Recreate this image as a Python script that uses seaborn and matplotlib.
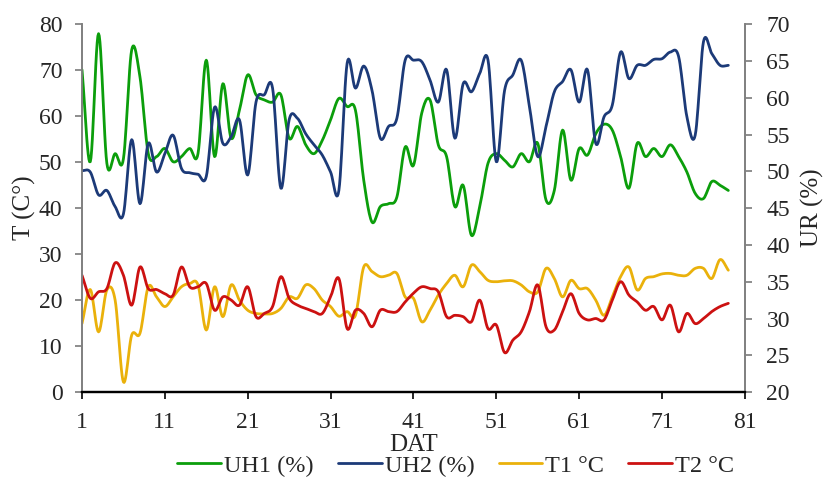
import numpy as np
import pandas as pd
import matplotlib
matplotlib.use('Agg')
import matplotlib.pyplot as plt
import seaborn as sns

# valores (DAT 1..79)
dat = list(range(1, 80))

uh1 = [63.8, 51.3, 68.7, 51.1, 52.4, 51.7, 66.5, 62.8, 52.4, 52.0,
       53.1, 51.3, 52.0, 53.1, 52.4, 65.1, 52.0, 61.9, 54.5, 58.3,
       63.1, 60.4, 59.7, 59.4, 60.4, 54.5, 56.1, 53.6, 52.4, 54.2,
       57.0, 59.9, 58.8, 58.3, 48.8, 43.1, 45.2, 45.6, 46.5, 53.3,
       50.8, 57.9, 59.7, 53.6, 52.0, 45.2, 48.1, 41.3, 45.2, 51.1,
       52.4, 51.5, 50.6, 52.4, 51.3, 53.8, 46.1, 47.4, 55.6, 48.8,
       53.1, 52.2, 55.1, 56.4, 55.6, 52.0, 47.7, 53.8, 52.0, 53.1,
       52.0, 53.6, 52.0, 49.9, 47.0, 46.3, 48.6, 48.1, 47.4]

uh2 = [50.1, 49.9, 46.8, 47.4, 45.2, 44.2, 54.3, 45.6, 53.8, 49.9,
       52.4, 54.9, 50.4, 49.8, 49.6, 49.3, 58.7, 53.8, 54.7, 57.0,
       49.5, 59.4, 60.4, 61.3, 47.7, 57.0, 57.2, 55.1, 53.6, 52.2,
       49.9, 47.4, 64.7, 61.3, 64.3, 61.0, 54.5, 56.1, 57.2, 65.1,
       65.1, 64.9, 62.4, 59.4, 63.8, 54.5, 61.9, 60.8, 63.3, 65.1,
       51.3, 61.0, 63.1, 65.1, 58.8, 52.0, 56.1, 60.8, 62.2, 63.8,
       59.4, 63.8, 53.8, 57.4, 59.0, 66.2, 62.6, 64.4, 64.4, 65.2,
       65.3, 66.2, 65.6, 57.4, 54.9, 67.6, 66.0, 64.4, 64.4]

t1 = [14.9, 22.3, 13.1, 22.2, 20.0, 2.2, 12.4, 12.8, 22.9, 20.7,
      18.6, 20.7, 22.9, 23.6, 23.3, 13.5, 22.9, 16.4, 23.3, 20.0,
      17.8, 17.1, 17.0, 17.1, 18.2, 20.7, 20.4, 23.3, 22.5, 20.0,
      18.6, 16.5, 17.5, 16.7, 27.2, 26.2, 25.1, 25.4, 25.8, 20.7,
      20.4, 15.3, 17.8, 21.1, 23.6, 25.4, 22.9, 27.6, 26.2, 24.3,
      24.0, 24.2, 24.2, 23.3, 21.8, 21.8, 26.9, 24.7, 20.7, 24.3,
      22.5, 22.5, 20.0, 16.7, 20.7, 25.1, 27.2, 22.2, 24.7, 25.1,
      25.7, 25.8, 25.4, 25.4, 26.9, 26.9, 24.7, 28.8, 26.5]

t2 = [25.4, 20.4, 21.8, 22.5, 28.1, 25.4, 18.9, 27.2, 22.5, 22.3,
      21.4, 21.1, 27.2, 22.9, 22.9, 23.6, 17.8, 20.7, 20.0, 18.9,
      22.9, 16.4, 17.1, 18.6, 25.1, 20.4, 18.9, 18.2, 17.5, 17.1,
      20.7, 24.7, 13.8, 17.8, 17.1, 14.2, 17.8, 17.5, 17.5, 19.6,
      21.5, 22.9, 22.5, 21.8, 16.4, 16.7, 16.4, 15.3, 20.0, 13.8,
      14.6, 8.6, 11.3, 13.1, 17.5, 23.3, 14.2, 13.5, 17.5, 21.4,
      17.1, 15.7, 16.0, 15.7, 20.0, 24.0, 21.1, 19.6, 17.8, 18.6,
      15.7, 18.9, 13.1, 17.1, 14.9, 16.0, 17.5, 18.6, 19.3]

cores = {'UH1 (%)': '#0b9e0b', 'UH2 (%)': '#1c3a78',
         'T1 °C': '#eab10b', 'T2 °C': '#cc1111'}


# linha suavizada tipo Excel (catmull-rom)
def suaviza(x, y, n=12):
    x = np.asarray(x, float)
    y = np.asarray(y, float)
    px = np.r_[2 * x[0] - x[1], x, 2 * x[-1] - x[-2]]
    py = np.r_[2 * y[0] - y[1], y, 2 * y[-1] - y[-2]]
    t = np.linspace(0, 1, n, endpoint=False)[:, None]

    def cr(p):
        p0, p1, p2, p3 = p[:-3], p[1:-2], p[2:-1], p[3:]
        c = 0.5 * (2 * p1 + (-p0 + p2) * t + (2 * p0 - 5 * p1 + 4 * p2 - p3) * t ** 2
                   + (-p0 + 3 * p1 - 3 * p2 + p3) * t ** 3)
        return np.r_[c.T.ravel(), p[-2]]
    return cr(px), cr(py)


def tabela(series):
    partes = []
    for nome, vals in series.items():
        xs, ys = suaviza(dat, vals)
        partes.append(pd.DataFrame({'DAT': xs, 'valor': ys, 'serie': nome}))
    return pd.concat(partes, ignore_index=True)


fs = 17
sns.set_theme(style='white')
plt.rcParams['font.family'] = ['Liberation Serif', 'DejaVu Serif']
plt.rcParams['font.size'] = fs

fig, ax = plt.subplots(figsize=(8.24, 4.92), dpi=100)
ax2 = ax.twinx()
fig.subplots_adjust(left=0.0995, right=0.904, top=0.951, bottom=0.203)

df_t = tabela({'T1 °C': t1, 'T2 °C': t2})
df_u = tabela({'UH1 (%)': uh1, 'UH2 (%)': uh2})

sns.lineplot(data=df_t, x='DAT', y='valor', hue='serie', palette=cores,
             sort=False, estimator=None, lw=2.0, ax=ax, legend=False)
sns.lineplot(data=df_u, x='DAT', y='valor', hue='serie', palette=cores,
             sort=False, estimator=None, lw=2.0, ax=ax2, legend=False)

ax.set_xlim(1, 81)
ax.set_xticks(range(1, 82, 10))
ax.set_ylim(0, 80)
ax.set_yticks(range(0, 81, 10))
ax2.set_ylim(20, 70)
ax2.set_yticks(range(20, 71, 5))

ax.set_xlabel('DAT', fontsize=18, labelpad=1)
ax.set_ylabel('T (C°)', fontsize=18, labelpad=2)
ax2.set_ylabel('UR (%)', fontsize=18, rotation=90, labelpad=8)

cinza = '#808080'
for a in (ax, ax2):
    a.spines['top'].set_visible(False)
    a.spines['left'].set_color(cinza)
    a.spines['right'].set_color(cinza)
    a.spines['bottom'].set_color('black')
    a.spines['bottom'].set_linewidth(1.6)
    a.grid(False)
ax.tick_params(axis='y', direction='out', length=5, color=cinza, left=True, labelsize=fs, pad=9)
ax.tick_params(axis='x', direction='out', length=5, color='black', width=1.2, bottom=True,
               labelsize=fs, pad=9)
ax2.tick_params(axis='y', direction='out', length=5, color=cinza, right=True, labelsize=fs, pad=10.5)

handles = [plt.Line2D([], [], color=cores[k], lw=2.0) for k in cores]
fig.legend(handles, list(cores.keys()), loc='center', bbox_to_anchor=(0.553, 0.053),
           ncol=4, frameon=False, handlelength=1.8, handletextpad=0.12,
           columnspacing=1.0, fontsize=17.5)

fig.savefig('out.png', dpi=100)
